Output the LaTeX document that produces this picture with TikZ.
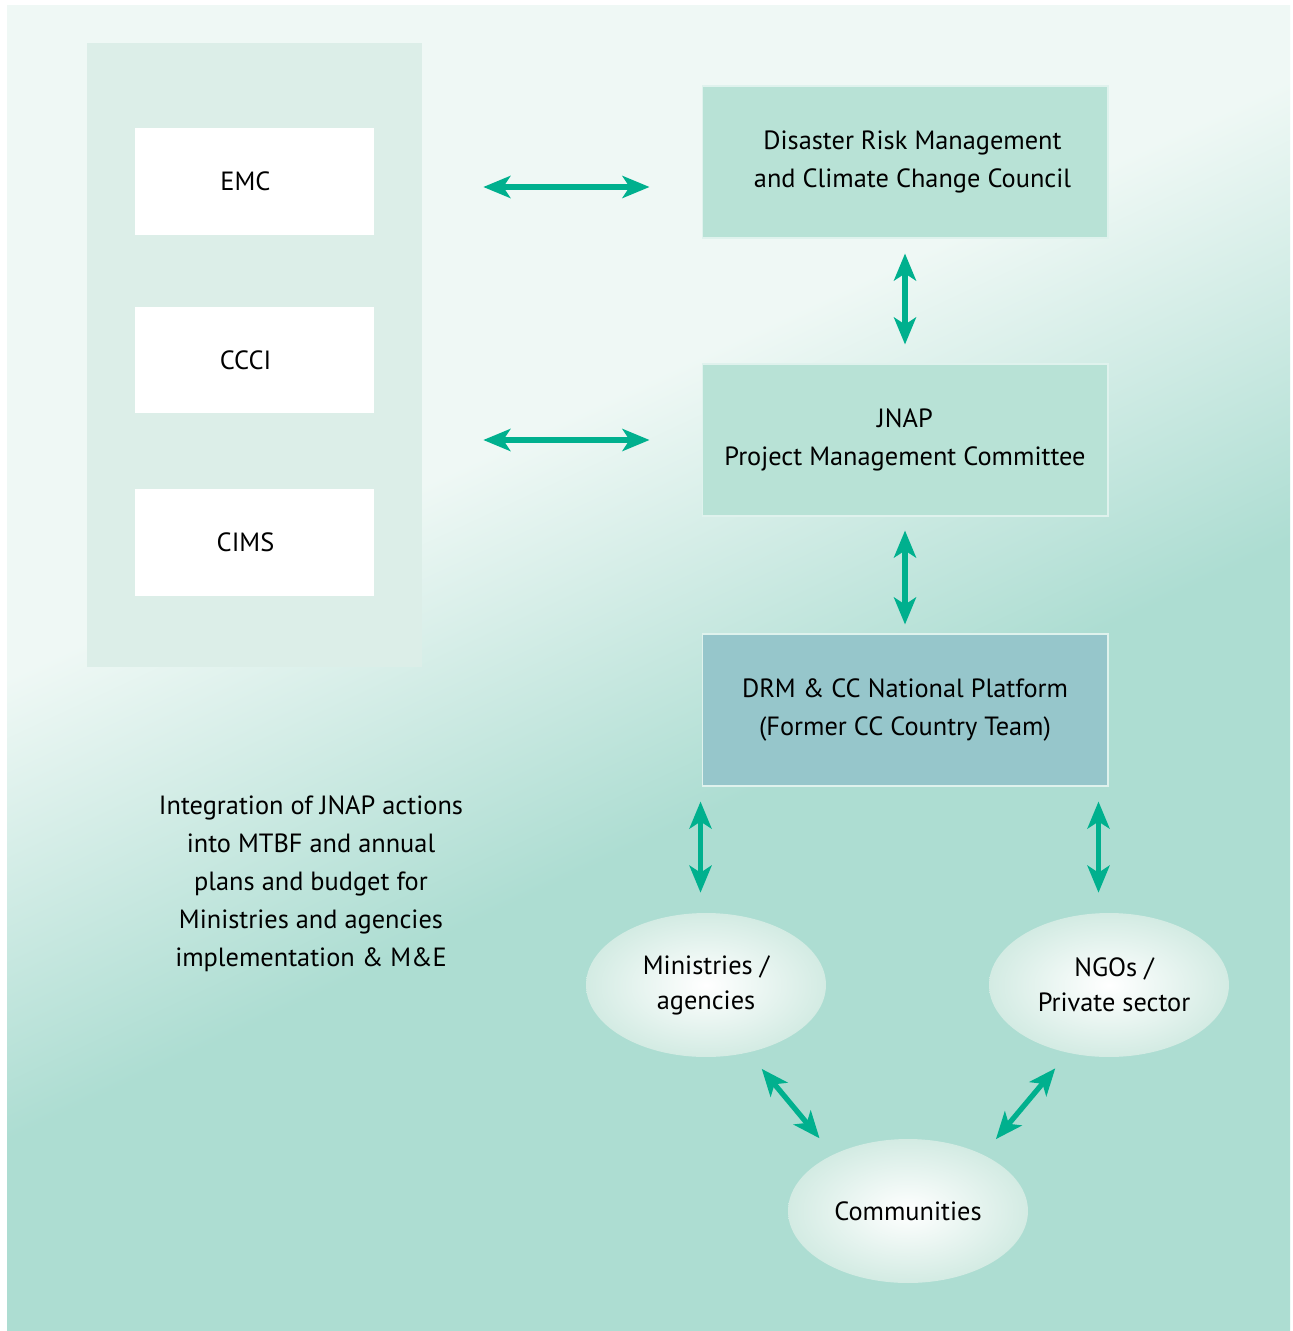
\documentclass[tikz,border=0pt]{standalone}
\usepackage{fontspec}
\setmainfont{PT Sans}
\usetikzlibrary{arrows.meta, shapes.geometric}

\definecolor{arrowgreen}{HTML}{00B08E}
\definecolor{bglight}{HTML}{EFF8F5}
\definecolor{bgdark}{HTML}{ADDDD2}
\definecolor{panelfill}{HTML}{DCEEE8}
\definecolor{boxfill}{HTML}{B8E2D6}
\definecolor{platfill}{HTML}{96C6CB}
\definecolor{ellout}{HTML}{D3EBE3}

\pgfdeclareverticalshading{bgfade}{100bp}{color(0bp)=(bgdark); color(44bp)=(bgdark); color(60bp)=(bglight); color(100bp)=(bglight)}

\tikzset{
  biarrow/.style={draw=arrowgreen, line width=3pt,
    {Stealth[length=0.54cm, width=0.44cm, inset=0.14cm]}-{Stealth[length=0.54cm, width=0.44cm, inset=0.14cm]}},
  whitebox/.style={fill=white, minimum width=4.78cm, minimum height=2.14cm, inner sep=0pt},
  councilbox/.style={fill=boxfill, draw=white!55!boxfill, line width=0.6pt,
    minimum width=8.12cm, minimum height=3.04cm, align=center},
  bubble/.style={ellipse, shading=radial, inner color=white, outer color=ellout,
    minimum width=4.8cm, minimum height=2.88cm, inner sep=0pt, align=center}
}

\begin{document}
\begin{tikzpicture}[x=0.02cm, y=-0.02cm, font=\fontsize{15}{21.6}\selectfont]
\useasboundingbox (0,0) rectangle (1292,1331);

%background
\fill[white] (0,0) rectangle (1292,1331);
\shade[shading=bgfade, shading angle=25] (7,6) rectangle (1290,1330);

%left panel
\node[fill=panelfill, minimum width=6.7cm, minimum height=12.48cm, inner sep=0pt] (panel) at (254.5,355) {};
\node[whitebox] (emc) at (254.5,181.5) {\hspace{-0.36cm}EMC};
\node[whitebox] (ccci) at (254.5,360) {\hspace{-0.36cm}CCCI};
\node[whitebox] (cims) at (254.5,542.5) {\hspace{-0.36cm}CIMS};

%right column
\node[councilbox] (drmc) at (905,162) {\hspace{0.3cm}Disaster Risk Management\\\hspace{0.3cm}and Climate Change Council};
\node[councilbox] (pmc) at (905,440) {JNAP\\Project Management Committee};
\node[councilbox, fill=platfill] (platform) at (905,710) {DRM \& CC National Platform\\(Former CC Country Team)};

%stakeholders
\node[bubble, font=\fontsize{15}{20}\selectfont] (ministries) at (706,985) {Ministries /\\agencies};
\node[bubble, font=\fontsize{15}{20}\selectfont] (ngos) at (1109,985) {\hspace{0.2cm}NGOs /\\\hspace{0.2cm}Private sector};
\node[bubble] (communities) at (908,1211) {Communities};

%note
\node[align=center] (mtbf) at (311,884) {Integration of JNAP actions\\into MTBF and annual\\plans and budget for\\Ministries and agencies\\implementation \& M\&E};

%arrows
\draw[biarrow, shorten <=1.22cm, shorten >=1.04cm] ([yshift=-0.11cm]panel.east |- emc) -- ([yshift=-0.11cm]drmc.west |- emc);
\draw[biarrow, shorten <=1.22cm, shorten >=1.04cm] (panel.east |- pmc) -- (pmc.west);
\draw[biarrow, shorten <=0.3cm, shorten >=0.38cm] (drmc) -- (pmc);
\draw[biarrow, shorten <=0.28cm, shorten >=0.18cm] (pmc) -- (platform);
\draw[biarrow, shorten <=0.3cm, shorten >=0.4cm] ([xshift=-0.02cm]platform.south west) -- ([xshift=-0.02cm]platform.south west |- ministries.north);
\draw[biarrow, shorten <=0.3cm, shorten >=0.4cm] ([xshift=-0.2cm]platform.south east) -- ([xshift=-0.2cm]platform.south east |- ngos.north);
\draw[biarrow, shorten <=0.42cm, shorten >=0.42cm] (ministries.-58) -- (communities.143);
\draw[biarrow, shorten <=0.4cm, shorten >=0.4cm] (ngos.-121) -- (communities.37);
\end{tikzpicture}
\end{document}
